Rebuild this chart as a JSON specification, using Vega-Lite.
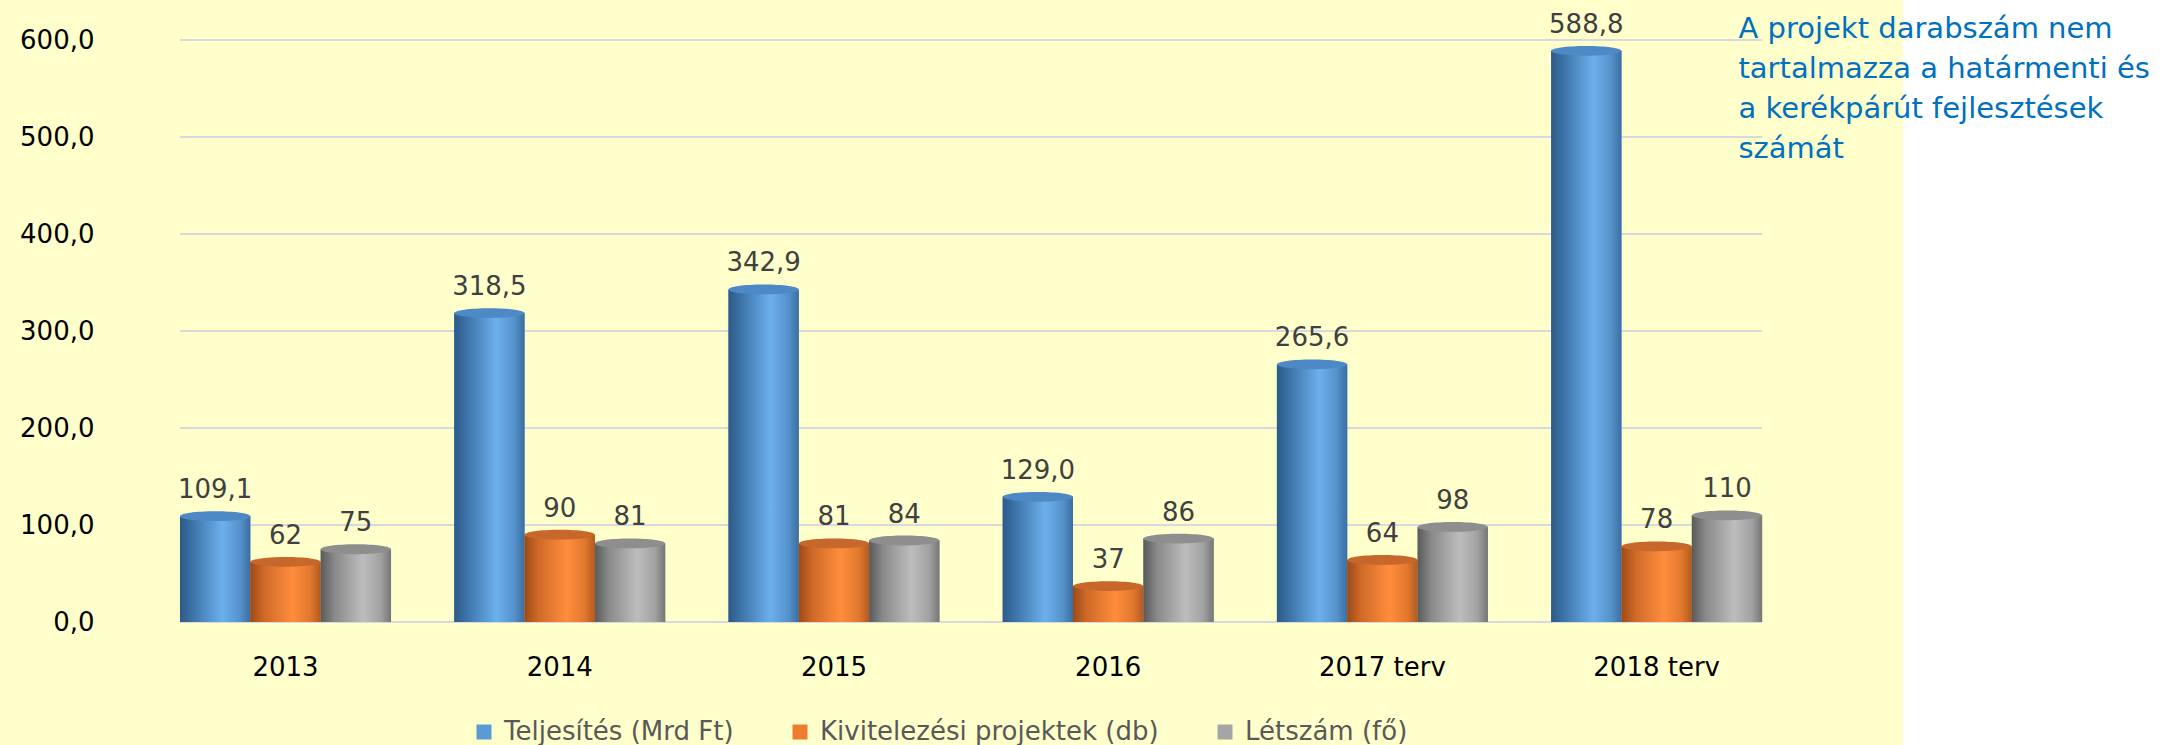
{
  "$schema": "https://vega.github.io/schema/vega-lite/v6.json",
  "width": 1903,
  "height": 745,
  "autosize": {"type": "none"},
  "padding": {"left": 0, "top": 0, "right": 264, "bottom": 0},
  "background": "#FFFFFF",
  "title": {
    "text": ["A projekt darabszám nem", "tartalmazza a határmenti és", "a kerékpárút fejlesztések", "számát"],
    "orient": "right", "anchor": "start", "angle": 0, "align": "left", "baseline": "alphabetic",
    "offset": -576, "dy": 38, "font": "DejaVu Sans", "fontSize": 29, "fontWeight": "normal",
    "color": "#0070C0", "lineHeight": 40, "frame": "group"
  },
  "datasets": {
    "bars": [
      {"year": "2013", "series": "Teljesítés (Mrd Ft)", "value": 109.1},
      {"year": "2013", "series": "Kivitelezési projektek (db)", "value": 62},
      {"year": "2013", "series": "Létszám (fő)", "value": 75},
      {"year": "2014", "series": "Teljesítés (Mrd Ft)", "value": 318.5},
      {"year": "2014", "series": "Kivitelezési projektek (db)", "value": 90},
      {"year": "2014", "series": "Létszám (fő)", "value": 81},
      {"year": "2015", "series": "Teljesítés (Mrd Ft)", "value": 342.9},
      {"year": "2015", "series": "Kivitelezési projektek (db)", "value": 81},
      {"year": "2015", "series": "Létszám (fő)", "value": 84},
      {"year": "2016", "series": "Teljesítés (Mrd Ft)", "value": 129.0},
      {"year": "2016", "series": "Kivitelezési projektek (db)", "value": 37},
      {"year": "2016", "series": "Létszám (fő)", "value": 86},
      {"year": "2017 terv", "series": "Teljesítés (Mrd Ft)", "value": 265.6},
      {"year": "2017 terv", "series": "Kivitelezési projektek (db)", "value": 64},
      {"year": "2017 terv", "series": "Létszám (fő)", "value": 98},
      {"year": "2018 terv", "series": "Teljesítés (Mrd Ft)", "value": 588.8},
      {"year": "2018 terv", "series": "Kivitelezési projektek (db)", "value": 78},
      {"year": "2018 terv", "series": "Létszám (fő)", "value": 110}
    ],
    "grid": [
      {"v": 0, "from": "2013", "to": "2018 terv"},
      {"v": 100, "from": "2013", "to": "2018 terv"},
      {"v": 200, "from": "2013", "to": "2018 terv"},
      {"v": 300, "from": "2013", "to": "2018 terv"},
      {"v": 400, "from": "2013", "to": "2018 terv"},
      {"v": 500, "from": "2013", "to": "2018 terv"},
      {"v": 600, "from": "2013", "to": "2018 terv"}
    ]
  },
  "layer": [
    {
      "data": {"name": "grid"},
      "mark": {"type": "rule", "color": "#D6D9DE", "strokeWidth": 2},
      "encoding": {
        "x": {"field": "from", "type": "nominal", "bandPosition": 0,
          "scale": {"domain": ["2013", "2014", "2015", "2016", "2017 terv", "2018 terv"], "paddingInner": 0.2305, "paddingOuter": 0.585, "align": 0.561},
          "axis": {"orient": "bottom", "offset": -123, "labelPadding": 45, "tickSize": 0, "title": null, "labelAngle": 0, "labelBaseline": "middle", "domain": false, "ticks": false}},
        "x2": {"field": "to", "bandPosition": 1},
        "y": {"field": "v", "type": "quantitative",
          "scale": {"domain": [0, 600], "range": [622, 40], "nice": false, "zero": true},
          "axis": {"orient": "left", "offset": -94, "labelPadding": 0, "tickSize": 0, "title": null, "values": [0, 100, 200, 300, 400, 500, 600], "format": ".1f", "labelAlign": "right", "labelBaseline": "middle", "domain": false, "ticks": false, "grid": false}}
      }
    },
    {
      "data": {"name": "bars"},
      "mark": {"type": "bar"},
      "encoding": {
        "x": {"field": "year", "type": "nominal"},
        "xOffset": {"field": "series", "type": "nominal", "scale": {"domain": ["Teljesítés (Mrd Ft)", "Kivitelezési projektek (db)", "Létszám (fő)"], "paddingInner": 0, "paddingOuter": 0}},
        "y": {"field": "value", "type": "quantitative"},
        "color": {"field": "series", "type": "nominal",
          "scale": {"domain": ["Teljesítés (Mrd Ft)", "Kivitelezési projektek (db)", "Létszám (fő)"], "range": ["#5B9BD5", "#ED7D31", "#A5A5A5"]},
          "legend": {"orient": "none", "legendX": 471, "legendY": 719, "title": null, "direction": "horizontal", "symbolType": "square", "symbolSize": 225, "symbolStrokeWidth": 0, "labelFontSize": 26, "labelColor": "#595959", "labelFont": "DejaVu Sans", "columnPadding": 53, "labelOffset": 7, "labelLimit": 600, "padding": 0}}
      }
    },
    {
      "data": {"name": "bars"},
      "transform": [{"filter": "datum.series === 'Teljesítés (Mrd Ft)'"}],
      "mark": {"type": "bar", "color": {"gradient": "linear", "x1": 0, "x2": 1, "y1": 0, "y2": 0, "stops": [{"offset": 0, "color": "#2C5A88"}, {"offset": 0.2, "color": "#3F76AC"}, {"offset": 0.6, "color": "#6CB0EC"}, {"offset": 0.85, "color": "#5592CC"}, {"offset": 1, "color": "#3C6EA0"}]}},
      "encoding": {
        "x": {"field": "year", "type": "nominal"},
        "xOffset": {"field": "series", "type": "nominal"},
        "y": {"field": "value", "type": "quantitative"}
      }
    },
    {
      "data": {"name": "bars"},
      "transform": [{"filter": "datum.series === 'Kivitelezési projektek (db)'"}],
      "mark": {"type": "bar", "color": {"gradient": "linear", "x1": 0, "x2": 1, "y1": 0, "y2": 0, "stops": [{"offset": 0, "color": "#9C4A17"}, {"offset": 0.2, "color": "#D06A28"}, {"offset": 0.6, "color": "#FF8D3C"}, {"offset": 0.85, "color": "#E2782E"}, {"offset": 1, "color": "#B35A1F"}]}},
      "encoding": {
        "x": {"field": "year", "type": "nominal"},
        "xOffset": {"field": "series", "type": "nominal"},
        "y": {"field": "value", "type": "quantitative"}
      }
    },
    {
      "data": {"name": "bars"},
      "transform": [{"filter": "datum.series === 'Létszám (fő)'"}],
      "mark": {"type": "bar", "color": {"gradient": "linear", "x1": 0, "x2": 1, "y1": 0, "y2": 0, "stops": [{"offset": 0, "color": "#5A5A5A"}, {"offset": 0.2, "color": "#8A8A8A"}, {"offset": 0.6, "color": "#BDBDBD"}, {"offset": 0.85, "color": "#A2A2A2"}, {"offset": 1, "color": "#767676"}]}},
      "encoding": {
        "x": {"field": "year", "type": "nominal"},
        "xOffset": {"field": "series", "type": "nominal"},
        "y": {"field": "value", "type": "quantitative"}
      }
    },
    {
      "data": {"name": "bars"},
      "mark": {"type": "point", "shape": "M -1 0 A 1 0.14 0 1 1 1 0 A 1 0.14 0 1 1 -1 0 Z", "size": 4940, "filled": true, "opacity": 1, "strokeWidth": 0},
      "encoding": {
        "x": {"field": "year", "type": "nominal"},
        "xOffset": {"field": "series", "type": "nominal"},
        "y": {"field": "value", "type": "quantitative"},
        "fill": {"field": "series", "type": "nominal", "legend": null,
          "scale": {"domain": ["Teljesítés (Mrd Ft)", "Kivitelezési projektek (db)", "Létszám (fő)"], "range": ["#4D89C4", "#C8672C", "#8E8E8E"]}}
      }
    },
    {
      "data": {"name": "bars"},
      "transform": [{"filter": "datum.series === 'Teljesítés (Mrd Ft)'"}],
      "mark": {"type": "text", "dy": -18, "baseline": "alphabetic", "align": "center", "fontSize": 26, "font": "DejaVu Sans", "color": "#404040"},
      "encoding": {
        "x": {"field": "year", "type": "nominal"},
        "xOffset": {"field": "series", "type": "nominal"},
        "y": {"field": "value", "type": "quantitative"},
        "text": {"field": "value", "type": "quantitative", "format": ".1f"}
      }
    },
    {
      "data": {"name": "bars"},
      "transform": [{"filter": "datum.series !== 'Teljesítés (Mrd Ft)'"}],
      "mark": {"type": "text", "dy": -18, "baseline": "alphabetic", "align": "center", "fontSize": 26, "font": "DejaVu Sans", "color": "#404040"},
      "encoding": {
        "x": {"field": "year", "type": "nominal"},
        "xOffset": {"field": "series", "type": "nominal"},
        "y": {"field": "value", "type": "quantitative"},
        "text": {"field": "value", "type": "quantitative", "format": "d"}
      }
    }
  ],
  "config": {
    "locale": {"number": {"decimal": ",", "thousands": " ", "grouping": [3], "currency": ["", ""]}},
    "view": {"fill": "#FFFFCC", "stroke": null},
    "axis": {"grid": false, "domain": false, "ticks": false, "labelFont": "DejaVu Sans", "labelFontSize": 26, "labelColor": "#000000"},
    "text": {"font": "DejaVu Sans"},
    "title": {"font": "DejaVu Sans"}
  }
}
